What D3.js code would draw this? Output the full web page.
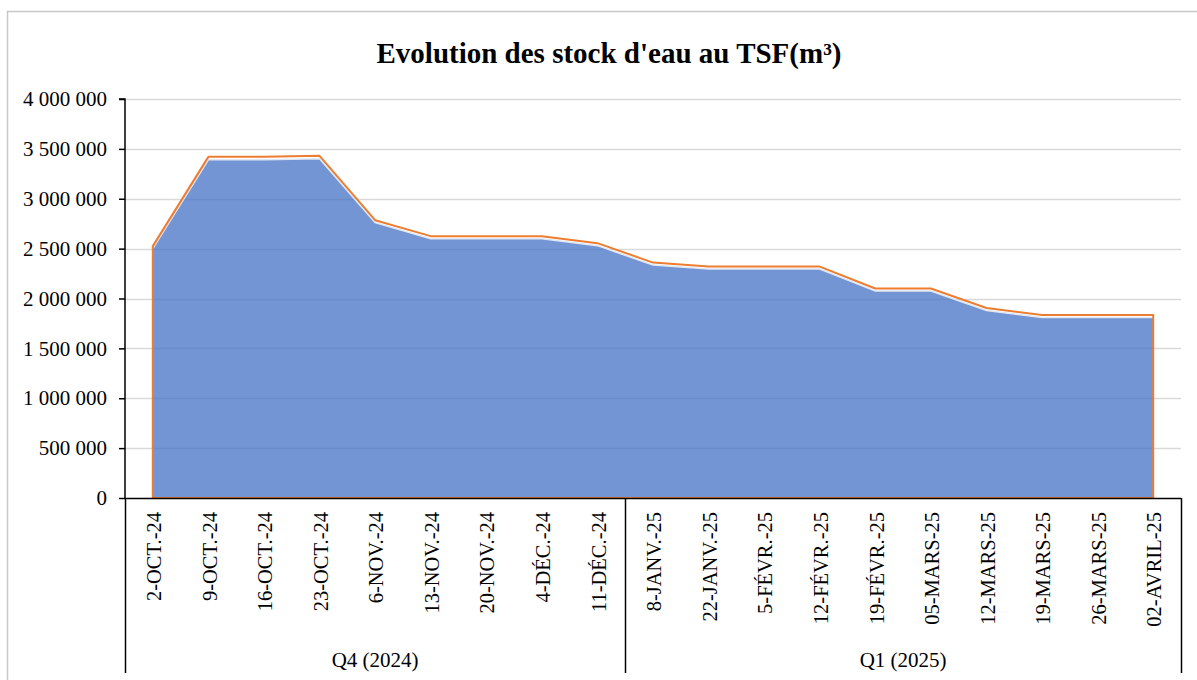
<!DOCTYPE html>
<html>
<head>
<meta charset="utf-8">
<script src="https://cdn.jsdelivr.net/npm/d3@7"></script>
<style>
  html, body { margin: 0; padding: 0; background: #fff; }
  svg { display: block; }
  text { font-family: "Liberation Serif", "Times New Roman", serif; fill: #000; }
</style>
</head>
<body>
<script>
const categories = ["2-OCT.-24","9-OCT.-24","16-OCT.-24","23-OCT.-24","6-NOV.-24","13-NOV.-24","20-NOV.-24","4-DÉC.-24","11-DÉC.-24",
  "8-JANV.-25","22-JANV.-25","5-FÉVR.-25","12-FÉVR.-25","19-FÉVR.-25","05-MARS-25","12-MARS-25","19-MARS-25","26-MARS-25","02-AVRIL-25"];
const groups = ["Q4 (2024)", "Q1 (2025)"];
const groupSizes = [9, 10];
const stockBlue = [2500000,3390000,3390000,3400000,2760000,2600000,2600000,2600000,2530000,
  2335000,2295000,2295000,2295000,2075000,2075000,1880000,1810000,1810000,1810000];
const stockOrange = [2525000,3420000,3420000,3430000,2785000,2625000,2625000,2625000,2555000,
  2360000,2320000,2320000,2320000,2100000,2100000,1905000,1835000,1835000,1835000];
const yTicks = [0,500000,1000000,1500000,2000000,2500000,3000000,3500000,4000000];
const title = "Evolution des stock d'eau au TSF(m³)";

(function () {
const W = 1197, H = 680;
const pL = 125, pR = 1181, pT = 99, pB = 498;

const svg = d3.select("body").append("svg").attr("width", W).attr("height", H);

// outer frame
svg.append("rect").attr("x", 7.5).attr("y", 11.5).attr("width", W).attr("height", H)
  .attr("fill", "none").attr("stroke", "#c8c8c8").attr("stroke-width", 1.5);

const x = d3.scaleBand().domain(categories).range([pL, pR]).padding(0);
const y = d3.scaleLinear().domain([0, 4000000]).range([pB, pT]);
const cx = d => x(d) + x.bandwidth() / 2;

// gridlines
svg.append("g").selectAll("line").data(yTicks.filter(t => t > 0)).join("line")
  .attr("x1", pL).attr("x2", pR)
  .attr("y1", d => Math.round(y(d)) + 0.5).attr("y2", d => Math.round(y(d)) + 0.5)
  .attr("stroke", "#d9d9d9").attr("stroke-width", 1.5);

// blue area
const area = d3.area().x((d, i) => cx(categories[i])).y0(y(0)).y1(d => y(d));
svg.append("path").datum(stockBlue).attr("d", area)
  .attr("fill", "#4472C4").attr("fill-opacity", 0.75);
const topLine = d3.line().x((d, i) => cx(categories[i])).y(d => y(d));
svg.append("path").datum(stockBlue).attr("d", topLine)
  .attr("fill", "none").attr("stroke", "#dfe7f5").attr("stroke-width", 1.5);

// orange outline
svg.append("path").datum(stockOrange).attr("d", area)
  .attr("fill", "none").attr("stroke", "#ED7D31").attr("stroke-width", 2).attr("stroke-linejoin", "round");

// y axis
const yAxis = d3.axisLeft(y).tickValues(yTicks).tickSize(6).tickPadding(12)
  .tickFormat(d => d3.format(",")(d).replace(/,/g, "\u00a0"));
const gy = svg.append("g").attr("transform", `translate(${pL},0)`).call(yAxis);
gy.select(".domain").attr("stroke", "#000").attr("stroke-width", 1.5).attr("d", `M-6,${pT}H0V${pB}`);
gy.selectAll(".tick line").attr("stroke", "#000").attr("stroke-width", 1.5);
gy.selectAll(".tick text").attr("font-size", 21).attr("font-family", "Liberation Serif").attr("fill", "#000");

// x axis baseline
svg.append("line").attr("x1", pL).attr("x2", pR).attr("y1", pB + 0.5).attr("y2", pB + 0.5)
  .attr("stroke", "#000").attr("stroke-width", 1.5);

// x category labels (rotated)
svg.append("g").selectAll("text").data(categories).join("text")
  .attr("transform", d => `translate(${cx(d) + 1},${512}) rotate(-90)`)
  .attr("text-anchor", "end").attr("dy", "0.35em")
  .attr("font-size", 20.5).text(d => d);

// group separators and labels
let acc = 0;
const bounds = [0];
groupSizes.forEach(s => { acc += s; bounds.push(acc); });
const bx = i => i < categories.length ? x(categories[i]) : pR;
svg.append("g").selectAll("line").data(bounds).join("line")
  .attr("x1", d => Math.round(bx(d)) + 0.5).attr("x2", d => Math.round(bx(d)) + 0.5)
  .attr("y1", pB).attr("y2", 673)
  .attr("stroke", "#000").attr("stroke-width", 1.5);
svg.append("g").selectAll("text").data(groups).join("text")
  .attr("x", (d, i) => (bx(bounds[i]) + bx(bounds[i + 1])) / 2)
  .attr("y", 667).attr("text-anchor", "middle").attr("font-size", 21).text(d => d);

// title
svg.append("text").attr("x", 609).attr("y", 63).attr("text-anchor", "middle")
  .attr("font-size", 29).attr("font-weight", "bold").text(title);
})();
</script>
</body>
</html>
